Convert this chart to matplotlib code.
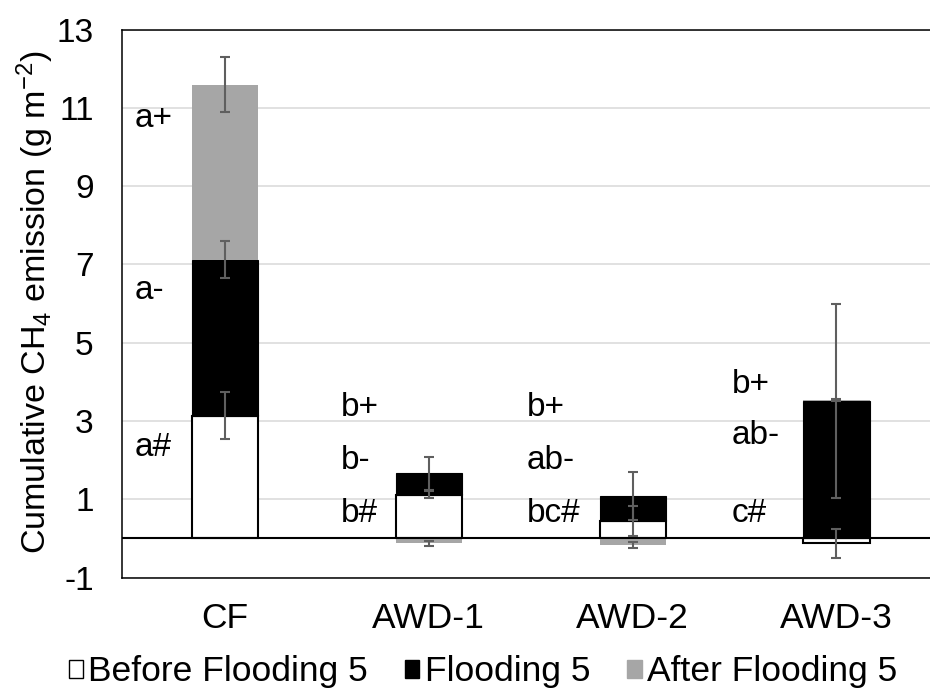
import numpy as np
import matplotlib
matplotlib.use('Agg')
import matplotlib.pyplot as plt
from matplotlib.patches import Patch

plt.rcParams['font.family'] = ['Liberation Sans', 'DejaVu Sans']
plt.rcParams['mathtext.default'] = 'regular'
plt.rcParams['axes.unicode_minus'] = False

# cumulative CH4 per period (g m-2) and standard errors
categories = ['CF', 'AWD-1', 'AWD-2', 'AWD-3']
before = [3.13, 1.12, 0.45, -0.13]
flooding = [3.99, 0.54, 0.64, 3.50]
after = [4.47, -0.13, -0.16, 0.04]
before_err = [0.60, 0.10, 0.38, 0.38]
flooding_err = [0.48, 0.43, 0.61, 2.48]
after_err = [0.71, 0.06, 0.075, 0.03]

# significance letters for each period
letters_before = ['a#', 'b#', 'bc#', 'c#']
letters_flooding = ['a-', 'b-', 'ab-', 'ab-']
letters_after = ['a+', 'b+', 'b+', 'b+']

series_names = ['Before Flooding 5', 'Flooding 5', 'After Flooding 5']
yticks = [-1, 1, 3, 5, 7, 9, 11, 13]

fs = 24
err_color = '#5f5f5f'

fig = plt.figure(figsize=(9.3, 6.91), dpi=100)
ax = fig.add_axes([121.5 / 930, 1 - 577.5 / 691, 1 - 121.5 / 930, (577.5 - 29.5) / 691])

x = np.arange(len(categories))
width = 0.325

styles = [
    dict(color='white', edgecolor='black', linewidth=1.5),
    dict(color='black', edgecolor='black', linewidth=0.8),
    dict(color='#a6a6a6', edgecolor='#a6a6a6', linewidth=0),
]

# Excel-style stacking: positive parts go up from zero, negative parts go down
pos_base = np.zeros(len(categories))
neg_base = np.zeros(len(categories))
for vals, errs, style in zip([before, flooding, after],
                             [before_err, flooding_err, after_err], styles):
    vals = np.array(vals)
    bottoms = np.where(vals >= 0, pos_base, neg_base)
    ax.bar(x, vals, width, bottom=bottoms, zorder=2, **style)
    ends = bottoms + vals
    ax.errorbar(x, ends, yerr=errs, fmt='none', ecolor=err_color,
                elinewidth=1.5, capsize=3.5, capthick=1.5, zorder=4)
    pos_base = np.where(vals >= 0, ends, pos_base)
    neg_base = np.where(vals < 0, ends, neg_base)

# letter labels to the left of each bar
letter_x = [-0.442, 0.569, 1.482, 2.488]
letter_y = [[2.32, 0.64, 0.64, 0.64],
            [6.32, 2.0, 2.0, 2.64],
            [10.73, 3.35, 3.35, 3.92]]
for row, labels in enumerate([letters_before, letters_flooding, letters_after]):
    for i, lab in enumerate(labels):
        ax.text(letter_x[i], letter_y[row][i], lab, fontsize=fs,
                ha='left', va='center', zorder=5)

ax.axhline(0, color='black', linewidth=1.5, zorder=3)

ax.set_xlim(-0.508, 3.459)
ax.set_ylim(-1, 13)
ax.set_yticks(yticks)
ax.set_xticks(x)
ax.set_xticklabels(categories)
ax.tick_params(axis='both', length=0)
ax.tick_params(axis='y', pad=20, labelsize=fs)
ax.tick_params(axis='x', pad=18, labelsize=25.5)
ax.yaxis.grid(True, color='#d9d9d9', linewidth=1.1, zorder=0)
ax.set_axisbelow(True)
ax.spines['right'].set_visible(False)
for side in ['left', 'top', 'bottom']:
    ax.spines[side].set_linewidth(1.1)

fig.text(35 / 930, 1 - 302 / 691, 'Cumulative CH$_4$ emission (g m$^{-2}$)',
         rotation=90, ha='center', va='center', fontsize=24.5)

handles = [Patch(facecolor='white', edgecolor='black', linewidth=1.0),
           Patch(facecolor='black', edgecolor='black'),
           Patch(facecolor='#a6a6a6', edgecolor='#a6a6a6')]
fig.legend(handles, series_names, loc='center', bbox_to_anchor=(483 / 930, 1 - 672 / 691),
           ncol=3, frameon=False, fontsize=25.5, handlelength=0.4, handleheight=0.4,
           handletextpad=0.15, columnspacing=1.05, borderpad=0.1)

fig.savefig('out.png', dpi=100)
